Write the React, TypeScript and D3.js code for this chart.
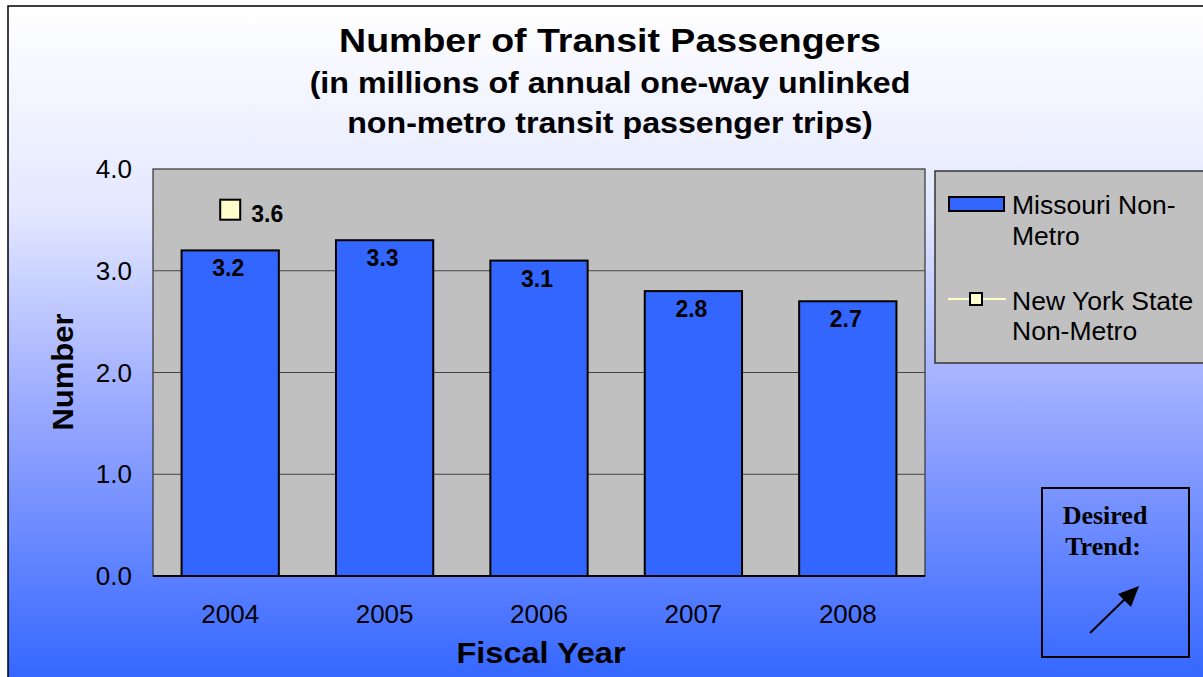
import React, { useEffect, useRef } from "react";
import * as d3 from "d3";

const categories = ["2004", "2005", "2006", "2007", "2008"];
const missouriValues = [3.2, 3.3, 3.1, 2.8, 2.7];
const nyCategories = ["2004"];
const nyValues = [3.6];
const yTicks = [0, 1, 2, 3, 4];
const titleLines = [
  "Number of Transit Passengers",
  "(in millions of annual one-way unlinked",
  "non-metro transit passenger trips)",
];
const legendLabels = [["Missouri Non-", "Metro"], ["New York State", "Non-Metro"]];

export default function App() {
  const ref = useRef<SVGSVGElement | null>(null);
  useEffect(() => {
    const svg = d3.select(ref.current);
    svg.selectAll("*").remove();
    const W = 1203, H = 677;
    const defs = svg.append("defs");
    const g = defs.append("linearGradient").attr("id", "bg").attr("x1", 0).attr("y1", 0).attr("x2", 0).attr("y2", 1);
    g.append("stop").attr("offset", "0%").attr("stop-color", "#ffffff");
    g.append("stop").attr("offset", "30%").attr("stop-color", "#e4e8ff");
    g.append("stop").attr("offset", "60%").attr("stop-color", "#98a8ff");
    g.append("stop").attr("offset", "100%").attr("stop-color", "#3366ff");

    svg.append("rect").attr("x", 8).attr("y", 6).attr("width", W).attr("height", H)
      .attr("fill", "url(#bg)").attr("stroke", "#000").attr("stroke-width", 1.5);

    const font = "'Liberation Sans', Arial, sans-serif";
    const serif = "'Liberation Serif', 'Times New Roman', serif";

    const txt = (x: number, y: number, s: string, size: number, opts: any = {}) => {
      const sx = opts.sx ?? 1;
      const rot = opts.rot ?? 0;
      return svg.append("text")
        .attr("transform", `translate(${x},${y}) rotate(${rot}) scale(${sx},1)`)
        .attr("text-anchor", opts.anchor ?? "start")
        .attr("font-family", opts.family ?? font)
        .attr("font-weight", opts.bold ? "bold" : "normal")
        .attr("font-size", size)
        .text(s);
    };

    // Title
    const tSizes = [33.5, 29, 29];
    const tY = [52, 93, 133];
    titleLines.forEach((t, i) => {
      txt(610, tY[i], t, tSizes[i], { anchor: "middle", bold: true, sx: i === 0 ? 1.12 : 1.11 });
    });

    const left = 153, right = 925, top = 169, bottom = 576;
    const x = d3.scaleBand().domain(categories).range([left, right]).paddingInner(0.37).paddingOuter(0.185);
    const y = d3.scaleLinear().domain([0, 4]).range([bottom, top]);

    svg.append("rect").attr("x", left).attr("y", top).attr("width", right - left).attr("height", bottom - top)
      .attr("fill", "#c0c0c0").attr("stroke", "#333").attr("stroke-width", 1.2);

    yTicks.filter(t => t > 0 && t < 4).forEach(t => {
      svg.append("line").attr("x1", left).attr("x2", right).attr("y1", y(t)).attr("y2", y(t))
        .attr("stroke", "#444").attr("stroke-width", 1);
    });
    yTicks.forEach(t => {
      txt(132, y(t) + 9, t.toFixed(1), 25, { anchor: "end", sx: 1.04 });
    });

    categories.forEach((c, i) => {
      const v = missouriValues[i];
      svg.append("rect").attr("x", x(c)!).attr("y", y(v)).attr("width", x.bandwidth()).attr("height", bottom - y(v))
        .attr("fill", "#3366ff").attr("stroke", "#000").attr("stroke-width", 2);
      txt(x(c)! + x.bandwidth() / 2 - 2, y(v) + 26, v.toFixed(1), 23, { anchor: "middle", bold: true });
      txt(x(c)! + x.bandwidth() / 2, 623, c, 25, { anchor: "middle", sx: 1.04 });
    });
    svg.append("line").attr("x1", left).attr("x2", right).attr("y1", bottom).attr("y2", bottom)
      .attr("stroke", "#000").attr("stroke-width", 2);

    nyCategories.forEach((c, i) => {
      const cx = x(c)! + x.bandwidth() / 2, cy = y(nyValues[i]);
      svg.append("rect").attr("x", cx - 10).attr("y", cy - 10).attr("width", 20).attr("height", 20)
        .attr("fill", "#ffffcc").attr("stroke", "#000").attr("stroke-width", 2);
      txt(cx + 21, cy + 12, nyValues[i].toFixed(1), 23, { bold: true });
    });

    // Axis titles
    txt(73, 372, "Number", 29, { anchor: "middle", bold: true, rot: -90, sx: 1.07 });
    txt(541, 663, "Fiscal Year", 29, { anchor: "middle", bold: true, sx: 1.12 });

    // Legend
    svg.append("rect").attr("x", 935).attr("y", 171).attr("width", 300).attr("height", 192)
      .attr("fill", "#c0c0c0").attr("stroke", "#333").attr("stroke-width", 1.5);
    svg.append("rect").attr("x", 949).attr("y", 197).attr("width", 55).attr("height", 14)
      .attr("fill", "#3366ff").attr("stroke", "#000").attr("stroke-width", 2);
    svg.append("line").attr("x1", 948).attr("x2", 1006).attr("y1", 299).attr("y2", 299)
      .attr("stroke", "#ffffcc").attr("stroke-width", 2);
    svg.append("rect").attr("x", 970).attr("y", 293).attr("width", 12).attr("height", 12)
      .attr("fill", "#ffffcc").attr("stroke", "#000").attr("stroke-width", 2);
    const legY = [[214, 245], [310, 340]];
    legendLabels.forEach((lines, i) => {
      lines.forEach((l, j) => {
        txt(1012, legY[i][j], l, 26.5);
      });
    });

    // Desired trend box
    svg.append("rect").attr("x", 1042).attr("y", 488).attr("width", 147).attr("height", 169)
      .attr("fill", "none").attr("stroke", "#000").attr("stroke-width", 2);
    txt(1105, 524, "Desired", 26, { anchor: "middle", bold: true, family: serif });
    txt(1103, 555, "Trend:", 26, { anchor: "middle", bold: true, family: serif });
    svg.append("line").attr("x1", 1090).attr("y1", 633).attr("x2", 1126).attr("y2", 598)
      .attr("stroke", "#000").attr("stroke-width", 2);
    svg.append("path").attr("d", "M1139,586 L1118,594 L1131,607 Z").attr("fill", "#000");
  }, []);
  return (
    <svg ref={ref} width={1203} height={677}
      style={{ position: "absolute", left: 0, top: 0, display: "block" }} />
  );
}
